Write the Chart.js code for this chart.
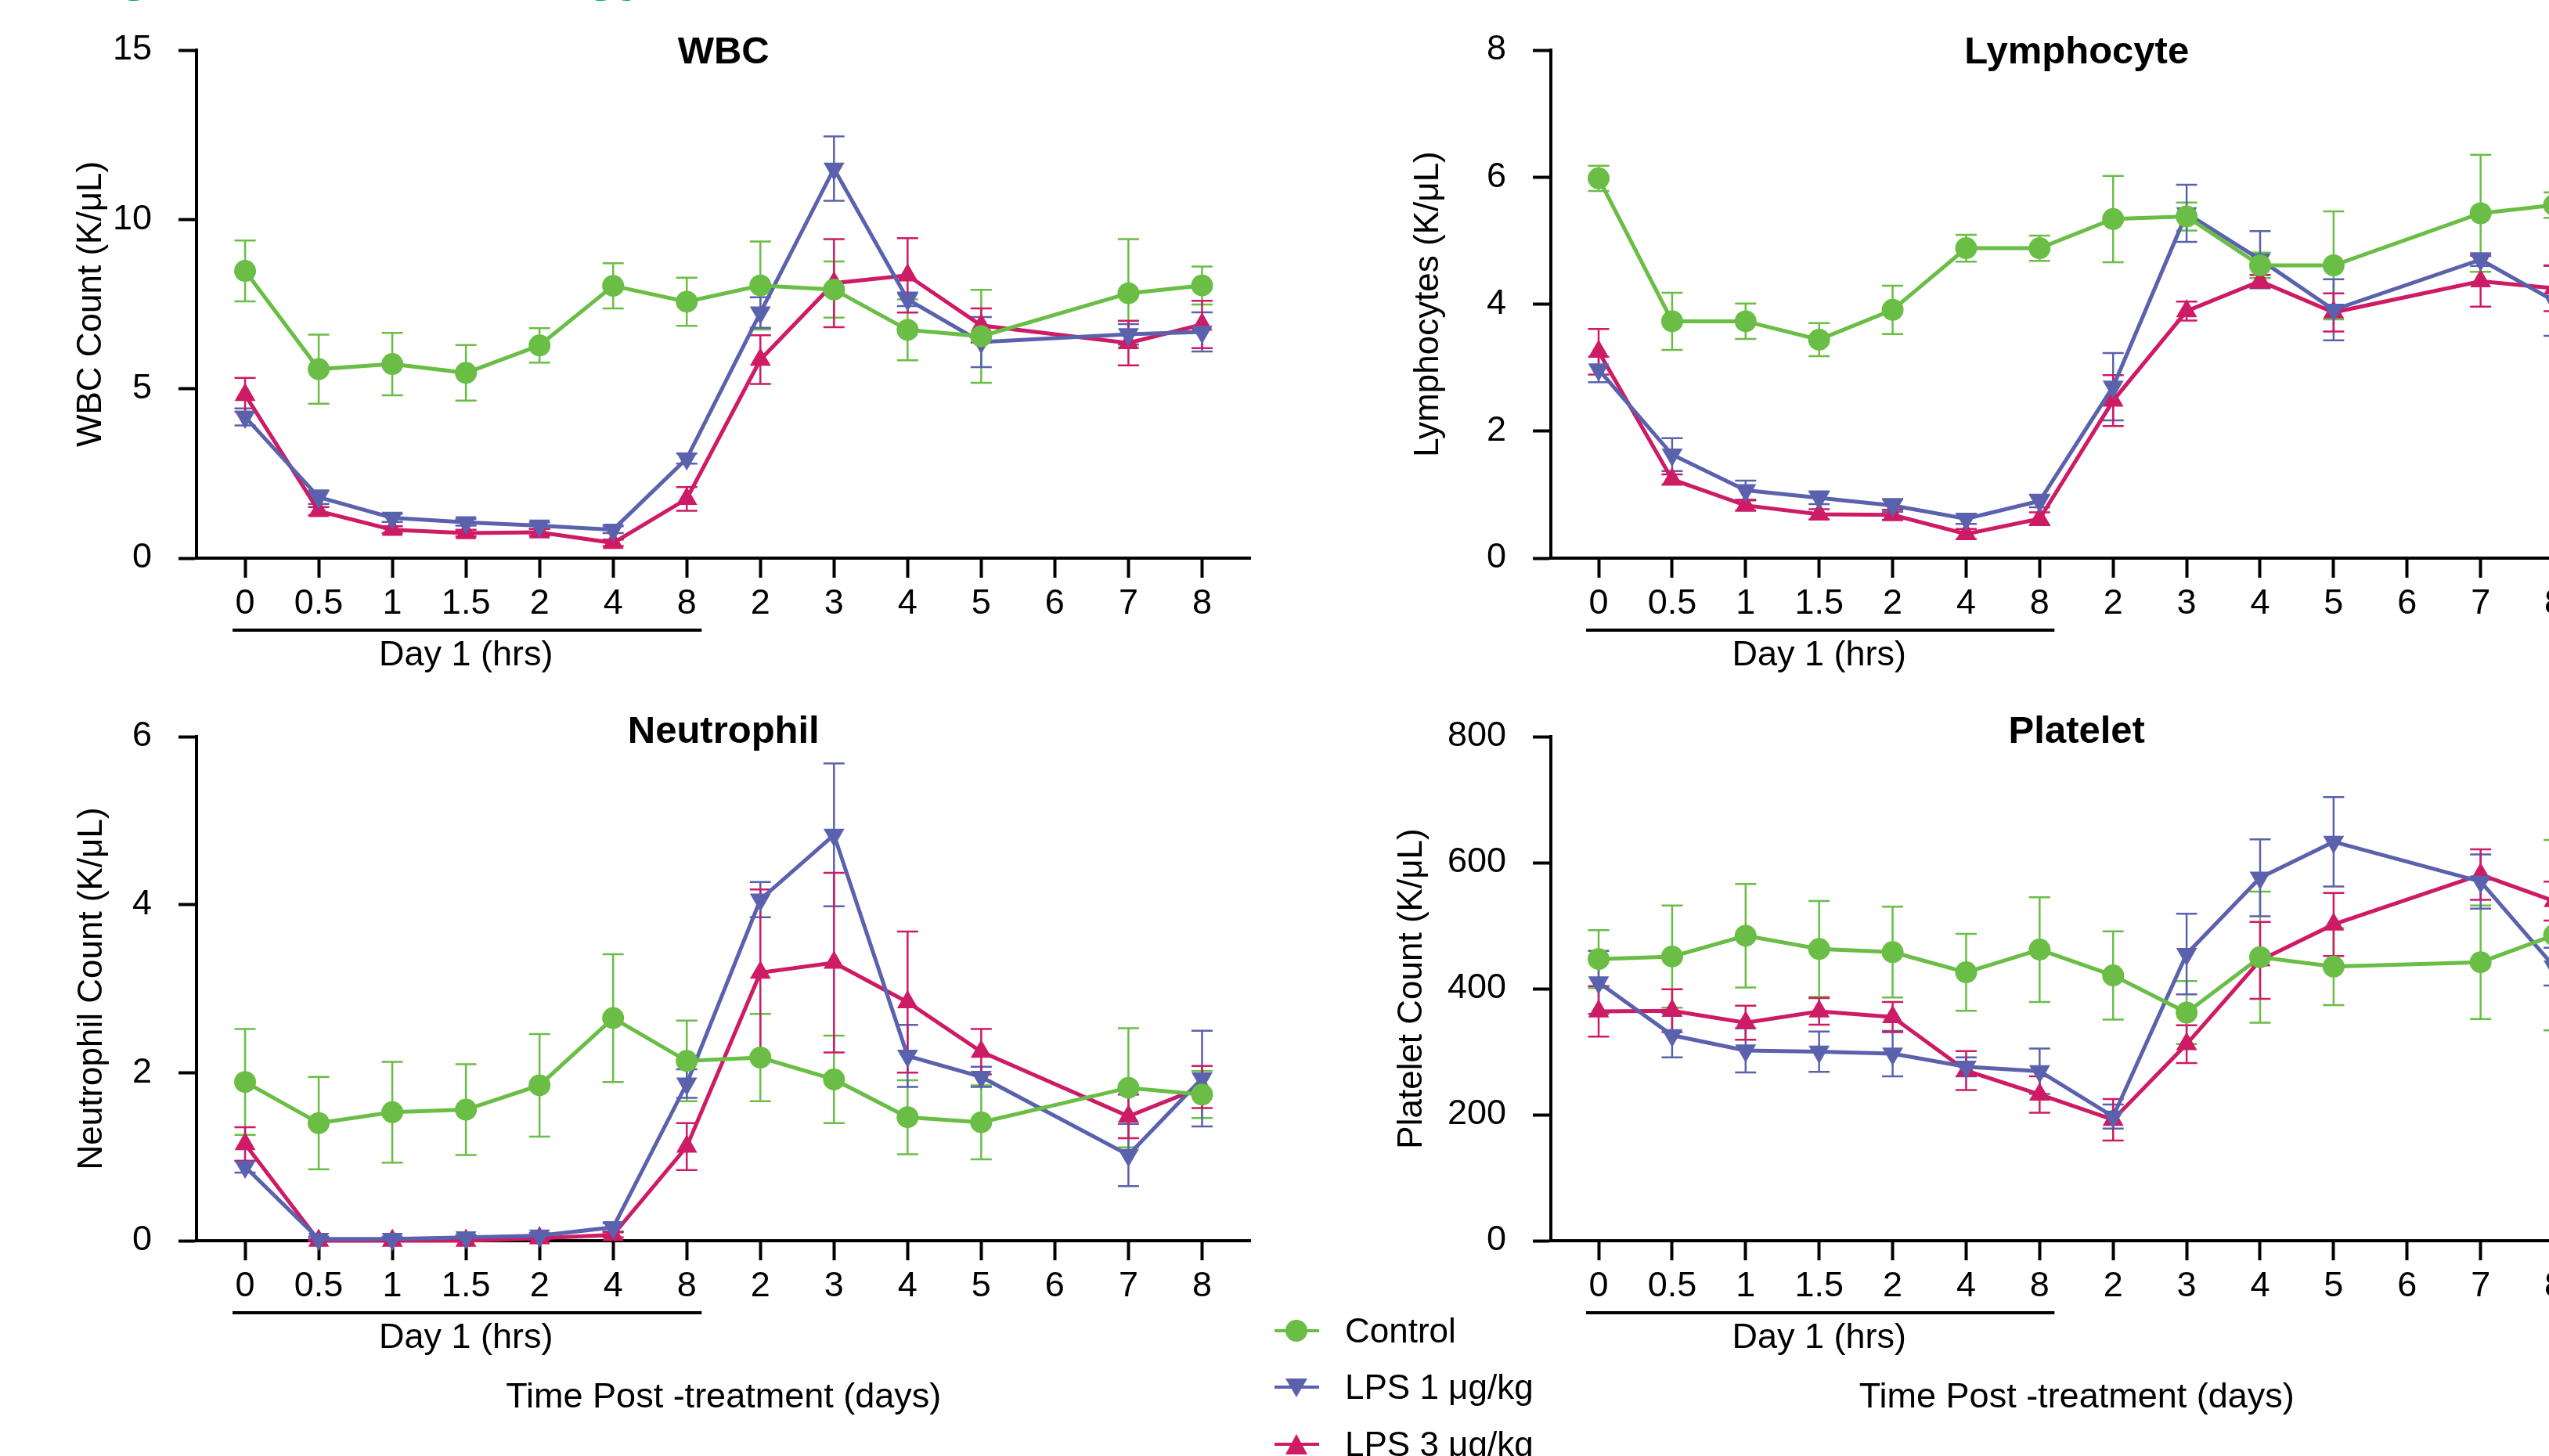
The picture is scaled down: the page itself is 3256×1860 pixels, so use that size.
<!DOCTYPE html>
<html>
<head>
<meta charset="utf-8">
<script src="https://cdn.jsdelivr.net/npm/chart.js@4.4.1/dist/chart.umd.min.js"></script>
<style>
  html, body { margin: 0; padding: 0; width: 3256px; height: 1860px; overflow: hidden; background: #fff; }
  canvas { position: absolute; }
  #fig { position: absolute; left: 85px; top: -76px; font: bold 73px 'Liberation Sans', Arial, sans-serif; color: #009a8a; line-height: 1; white-space: nowrap; }
  .item { position: absolute; left: 1628px; height: 72px; display: flex; align-items: center; font: 44px 'Liberation Sans', Arial, sans-serif; color: #000; white-space: nowrap; }
  .item svg { margin-right: 33px; }
</style>
</head>
<body>
<div id="fig">Figure 3: Hematology</div>
<canvas id="wbc" width="1613" height="900" style="left:0;top:0"></canvas>
<canvas id="lym" width="1640" height="900" style="left:1700px;top:0"></canvas>
<canvas id="neu" width="1613" height="980" style="left:0;top:880px"></canvas>
<canvas id="plt" width="1640" height="980" style="left:1700px;top:880px"></canvas>
<div id="legend"></div>
<script>
// time points: day 1 in hours, then days
const timeLabels = ['0', '0.5', '1', '1.5', '2', '4', '8', '2', '3', '4', '5', '6', '7', '8'];
const seriesNames = ['Control', 'LPS 1 μg/kg', 'LPS 3 μg/kg'];
const seriesColors = ['#6abd45', '#5a62ad', '#cd1b65'];

// WBC (K/uL), mean and SEM
const wbcControl = [8.48, 5.58, 5.73, 5.47, 6.28, 8.04, 7.57, 8.05, 7.93, 6.74, 6.55, null, 7.82, 8.05];
const wbcControlErr = [0.9, 1.02, 0.92, 0.82, 0.51, 0.67, 0.71, 1.3, 0.83, 0.9, 1.37, null, 1.6, 0.56];
const wbcLps1 = [4.17, 1.8, 1.19, 1.06, 0.96, 0.84, 2.94, 7.25, 11.5, 7.64, 6.38, null, 6.61, 6.68];
const wbcLps1Err = [0.25, 0.2, 0.12, 0.1, 0.1, 0.1, 0.15, 0.45, 0.95, 0.2, 0.74, null, 0.3, 0.58];
const wbcLps3 = [4.82, 1.39, 0.84, 0.74, 0.76, 0.45, 1.75, 5.86, 8.12, 8.35, 6.87, null, 6.35, 6.9];
const wbcLps3Err = [0.5, 0.12, 0.1, 0.1, 0.1, 0.1, 0.35, 0.72, 1.3, 1.1, 0.5, null, 0.66, 0.7];

// Lymphocytes (K/uL)
const lymControl = [5.98, 3.73, 3.73, 3.44, 3.91, 4.88, 4.88, 5.34, 5.38, 4.61, 4.61, null, 5.43, 5.56];
const lymControlErr = [0.2, 0.45, 0.28, 0.26, 0.38, 0.21, 0.2, 0.68, 0.22, 0.2, 0.85, null, 0.92, 0.2];
const lymLps1 = [2.97, 1.63, 1.07, 0.95, 0.83, 0.62, 0.9, 2.7, 5.43, 4.7, 3.91, null, 4.7, 4.05];
const lymLps1Err = [0.2, 0.26, 0.15, 0.1, 0.1, 0.08, 0.1, 0.53, 0.45, 0.45, 0.48, null, 0.1, 0.55];
const lymLps3 = [3.25, 1.24, 0.83, 0.69, 0.68, 0.38, 0.62, 2.48, 3.89, 4.36, 3.87, null, 4.36, 4.25];
const lymLps3Err = [0.36, 0.08, 0.08, 0.08, 0.08, 0.08, 0.1, 0.4, 0.15, 0.1, 0.3, null, 0.4, 0.36];

// Neutrophils (K/uL)
const neuControl = [1.89, 1.40, 1.53, 1.56, 1.85, 2.65, 2.14, 2.18, 1.92, 1.47, 1.41, null, 1.82, 1.74];
const neuControlErr = [0.63, 0.55, 0.6, 0.54, 0.61, 0.76, 0.48, 0.52, 0.52, 0.44, 0.44, null, 0.71, 0.28];
const neuLps1 = [0.88, 0.02, 0.02, 0.04, 0.06, 0.16, 1.87, 4.06, 4.83, 2.2, 1.95, null, 1.02, 1.93];
const neuLps1Err = [0.07, 0.03, 0.03, 0.03, 0.03, 0.05, 0.17, 0.21, 0.85, 0.37, 0.12, null, 0.37, 0.57];
const neuLps3 = [1.15, 0, 0, 0, 0.03, 0.07, 1.12, 3.19, 3.31, 2.84, 2.25, null, 1.48, 1.83];
const neuLps3Err = [0.2, 0.02, 0.02, 0.02, 0.02, 0.03, 0.28, 0.99, 1.07, 0.84, 0.27, null, 0.26, 0.25];

// Platelets
const pltControl = [447, 451, 484, 463, 458, 426, 462, 421, 362, 450, 435, null, 442, 485];
const pltControlErr = [46, 81, 82, 76, 72, 61, 83, 70, 50, 104, 61, null, 90, 151];
const pltLps1 = [410, 326, 302, 300, 297, 276, 269, 197, 455, 576, 633, null, 570, 435];
const pltLps1Err = [50, 35, 35, 32, 36, 15, 36, 19, 64, 61, 71, null, 43, 30];
const pltLps3 = [364, 365, 346, 364, 355, 270, 232, 192, 312, 445, 502, null, 581, 539];
const pltLps3Err = [40, 34, 27, 21, 24, 31, 29, 33, 30, 61, 50, null, 40, 31];

const ARIAL = "'Liberation Sans', Arial, sans-serif";
const pointStyles = ['circle', 'triangle', 'triangle'];
const pointRotations = [0, 180, 0];
const pointRadii = [14, 15.5, 15.5];

// error bars drawn under the lines
const errorBars = {
    id: 'errorBars',
    beforeDatasetsDraw(chart) {
        const ctx = chart.ctx;
        const xs = chart.scales.x, ys = chart.scales.y;
        chart.data.datasets.forEach((ds) => {
            ctx.save();
            ctx.strokeStyle = ds.borderColor;
            ctx.lineWidth = 2.5;
            ds.data.forEach((p, i) => {
                const e = ds.errors[i];
                if (p.y == null || e == null) return;
                const x = xs.getPixelForValue(p.x);
                const y1 = ys.getPixelForValue(p.y + e);
                const y2 = ys.getPixelForValue(Math.max(p.y - e, 0));
                ctx.beginPath();
                ctx.moveTo(x, y1); ctx.lineTo(x, y2);
                ctx.moveTo(x - 13.5, y1); ctx.lineTo(x + 13.5, y1);
                ctx.moveTo(x - 13.5, y2); ctx.lineTo(x + 13.5, y2);
                ctx.stroke();
            });
            ctx.restore();
        });
    }
};

// panel title and "Day 1 (hrs)" bracket
const panelText = {
    id: 'panelText',
    afterDraw(chart, args, opts) {
        const ctx = chart.ctx;
        const area = chart.chartArea;
        const xs = chart.scales.x;
        ctx.save();
        ctx.fillStyle = '#000';
        ctx.textAlign = 'center';
        ctx.textBaseline = 'middle';
        ctx.font = 'bold 49px ' + ARIAL;
        ctx.fillText(opts.title, (area.left + area.right) / 2, area.top + opts.titleDy);

        const x0 = xs.getPixelForValue(0), x6 = xs.getPixelForValue(6);
        ctx.strokeStyle = '#000';
        ctx.lineWidth = 4;
        ctx.beginPath();
        ctx.moveTo(x0 - 16, area.bottom + 92);
        ctx.lineTo(x6 + 19, area.bottom + 92);
        ctx.stroke();
        ctx.font = '45px ' + ARIAL;
        ctx.fillText('Day 1 (hrs)', (x0 + x6) / 2, area.bottom + 125);
        ctx.restore();
    }
};

function buildChart(id, cfg) {
    const sets = cfg.values.map((vals, k) => ({
        label: seriesNames[k],
        data: vals.map((v, i) => ({ x: i, y: v })),
        errors: cfg.errors[k],
        borderColor: seriesColors[k],
        backgroundColor: seriesColors[k],
        borderWidth: 5,
        pointStyle: pointStyles[k],
        rotation: pointRotations[k],
        pointRadius: pointRadii[k],
        pointBorderWidth: 0,
        spanGaps: true,
        clip: false
    }));
    return new Chart(document.getElementById(id), {
        type: 'line',
        data: { datasets: sets },
        plugins: [errorBars, panelText],
        options: {
            responsive: false,
            animation: false,
            layout: { padding: { top: cfg.padTop, right: cfg.padRight, left: 0, bottom: 0 } },
            scales: {
                x: {
                    type: 'linear',
                    min: cfg.xMin,
                    max: 13.66,
                    afterBuildTicks: (s) => { s.ticks = timeLabels.map((t, i) => ({ value: i })); },
                    afterFit: (s) => { s.height = cfg.xHeight; },
                    ticks: {
                        callback: (v) => timeLabels[v],
                        font: { family: ARIAL, size: 45 },
                        color: '#000',
                        padding: 7,
                        autoSkip: false,
                        maxRotation: 0
                    },
                    grid: { drawOnChartArea: false, tickLength: 25, tickWidth: 4, tickColor: '#000' },
                    border: { display: true, color: '#000', width: 4 },
                    title: {
                        display: cfg.bottomTitle,
                        text: 'Time Post -treatment (days)',
                        font: { family: ARIAL, size: 45 },
                        color: '#000',
                        padding: { top: 0, bottom: 47 }
                    }
                },
                y: {
                    min: 0,
                    max: cfg.yMax,
                    afterFit: (s) => { s.width = cfg.yWidth; },
                    ticks: { stepSize: cfg.yStep, font: { family: ARIAL, size: 45 }, color: '#000', padding: 34 },
                    grid: { drawOnChartArea: false, tickLength: 23, tickWidth: 4, tickColor: '#000' },
                    border: { display: true, color: '#000', width: 4 },
                    title: {
                        display: true,
                        text: cfg.yTitle,
                        font: { family: ARIAL, size: 44 },
                        color: '#000',
                        padding: { top: cfg.titlePad, bottom: 0 }
                    }
                }
            },
            plugins: {
                legend: { display: false },
                tooltip: { enabled: false },
                panelText: { title: cfg.title, titleDy: cfg.titleDy }
            }
        }
    });
}

buildChart('wbc', {
    title: 'WBC', yTitle: 'WBC Count (K/μL)', yMax: 15, yStep: 5,
    values: [wbcControl, wbcLps1, wbcLps3], errors: [wbcControlErr, wbcLps1Err, wbcLps3Err],
    padTop: 64, padRight: 3, yWidth: 251, xHeight: 187, xMin: -0.66, titlePad: 90, titleDy: 3, bottomTitle: false
});
buildChart('lym', {
    title: 'Lymphocyte', yTitle: 'Lymphocytes (K/μL)', yMax: 8, yStep: 2,
    values: [lymControl, lymLps1, lymLps3], errors: [lymControlErr, lymLps1Err, lymLps3Err],
    padTop: 64, padRight: 14, yWidth: 281, xHeight: 187, xMin: -0.65, titlePad: 98, titleDy: 3, bottomTitle: false
});
buildChart('neu', {
    title: 'Neutrophil', yTitle: 'Neutrophil Count (K/μL)', yMax: 6, yStep: 2,
    values: [neuControl, neuLps1, neuLps3], errors: [neuControlErr, neuLps1Err, neuLps3Err],
    padTop: 55, padRight: 3, yWidth: 251, xHeight: 275, xMin: -0.66, titlePad: 91, titleDy: -6, bottomTitle: true
});
buildChart('plt', {
    title: 'Platelet', yTitle: 'Platelet Count (K/μL)', yMax: 800, yStep: 200,
    values: [pltControl, pltLps1, pltLps3], errors: [pltControlErr, pltLps1Err, pltLps3Err],
    padTop: 55, padRight: 14, yWidth: 281, xHeight: 275, xMin: -0.65, titlePad: 77, titleDy: -6, bottomTitle: true
});

// legend built from the series arrays
const legend = document.getElementById('legend');
const rowCenters = [1700, 1772, 1845];
seriesNames.forEach((name, k) => {
    const c = seriesColors[k];
    let marker;
    if (k === 0) marker = `<circle cx="28" cy="20" r="14" fill="${c}"/>`;
    else if (k === 1) marker = `<polygon points="14,9 42,9 28,33" fill="${c}"/>`;
    else marker = `<polygon points="14,33 42,33 28,7" fill="${c}"/>`;
    const item = document.createElement('div');
    item.className = 'item';
    item.style.top = (rowCenters[k] - 36) + 'px';
    item.innerHTML = `<svg width="57" height="40"><line x1="0" y1="20" x2="57" y2="20" stroke="${c}" stroke-width="4"/>${marker}</svg><span>${name}</span>`;
    legend.appendChild(item);
});
</script>
</body>
</html>
